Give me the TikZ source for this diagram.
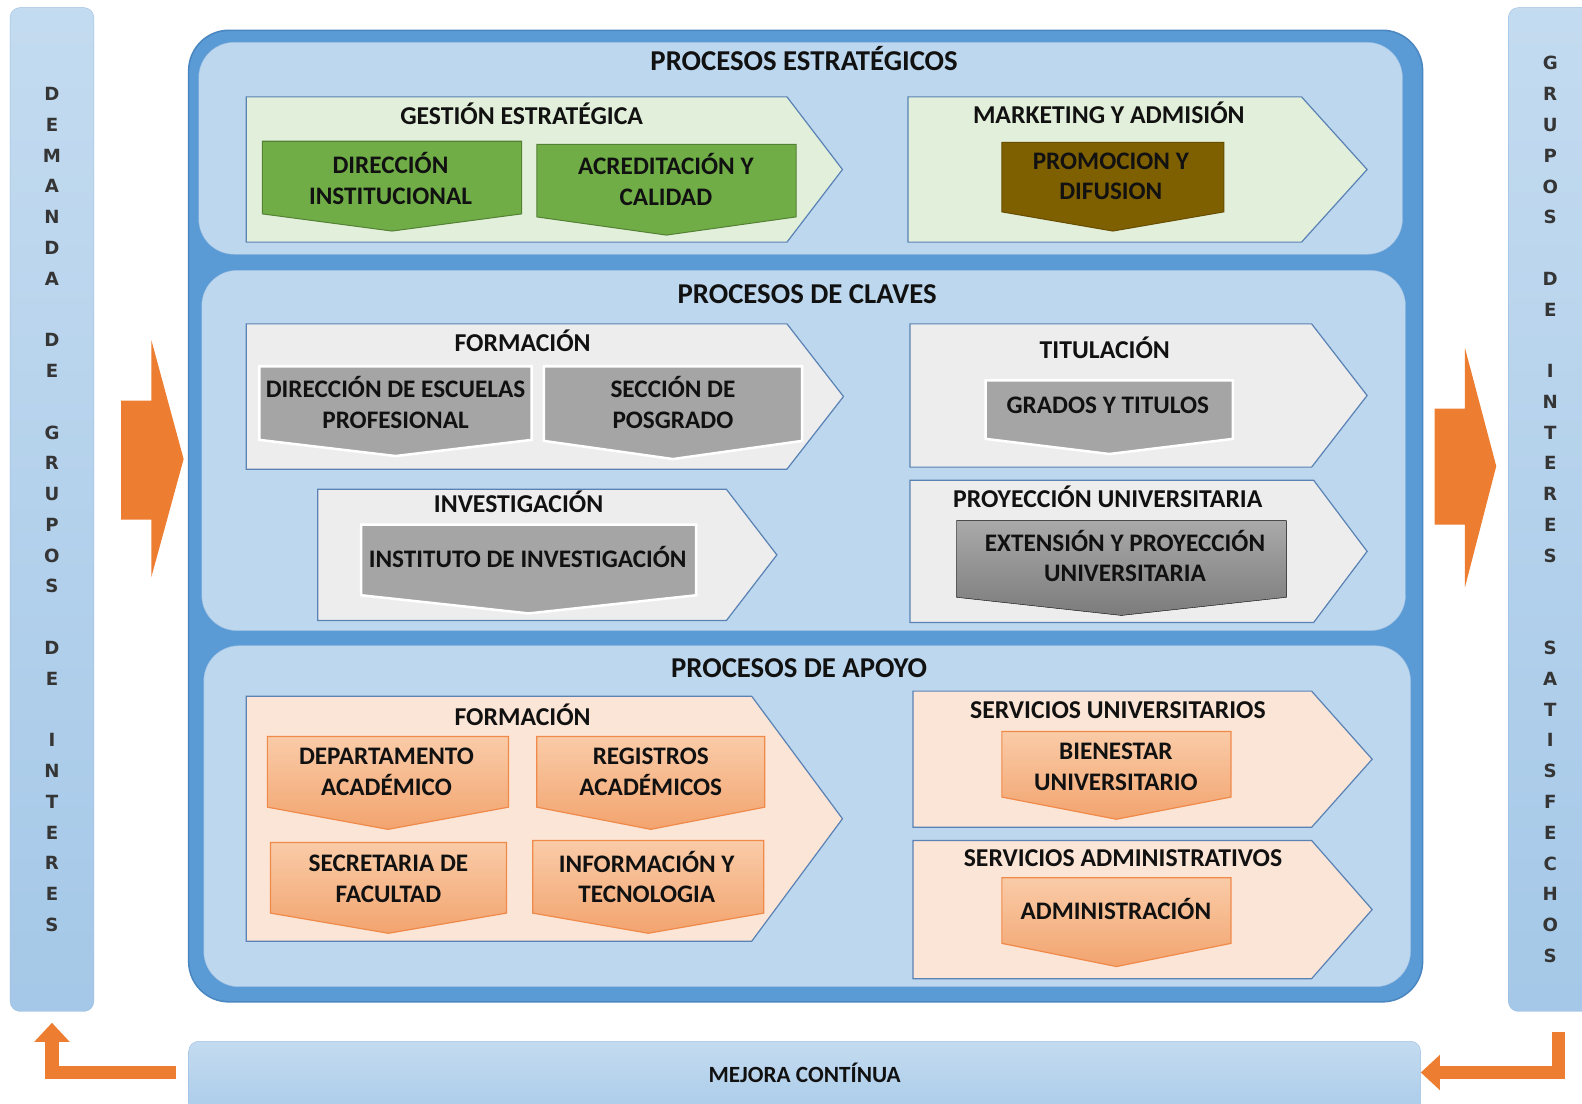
\documentclass[tikz,border=0pt]{standalone}
\usepackage{fontspec}
\setmainfont{Carlito}
\newfontfamily\letras{DejaVu Sans}
\usetikzlibrary{arrows.meta}

% 颜色
\definecolor{marco}{HTML}{5B9BD5}
\definecolor{marcoborde}{HTML}{4A86C0}
\definecolor{panel}{HTML}{BDD7EE}
\definecolor{panelborde}{HTML}{9DBFE3}
\definecolor{linea}{HTML}{5A82B4}
\definecolor{verdeclaro}{HTML}{E2EFDA}
\definecolor{grisclaro}{HTML}{EDEDED}
\definecolor{durazno}{HTML}{FBE5D6}
\definecolor{verde}{HTML}{70AD47}
\definecolor{verdeborde}{HTML}{548235}
\definecolor{cafe}{HTML}{7F6000}
\definecolor{gris}{HTML}{A5A5A5}
\definecolor{naranja}{HTML}{ED7D31}
\definecolor{naranjaborde}{HTML}{F08A4B}
\definecolor{texto}{HTML}{111111}

\tikzset{
  chev/.style={draw=linea, line width=1.2pt},
  cajaverde/.style={fill=verde, draw=verdeborde, line width=1pt},
  cajacafe/.style={fill=cafe, draw=cafe!80!black, line width=1pt},
  cajagris/.style={fill=gris, draw=white, line width=2.5pt},
  cajanaranja/.style={top color=orange!25!naranja!40, bottom color=naranja!70!white, draw=naranjaborde, line width=1.2pt},
  titulo/.style={font=\fontsize{28.5}{32}\selectfont\bfseries, text=texto, inner sep=0pt},
  sub/.style={font=\fontsize{25.5}{30}\selectfont\bfseries, text=texto, inner sep=0pt},
  texto/.style={font=\fontsize{25}{30}\selectfont\bfseries, text=texto, align=center, inner sep=0pt},
  columna/.style={rounded corners=10pt, draw=panelborde, top color=panel!90!white, bottom color=marco!55!white,
    minimum width=83pt, minimum height=995pt, inner sep=0pt, align=center,
    font=\fontsize{18}{30.5}\selectfont\letras\bfseries, text=texto!85!white},
  lflecha/.style={naranja, line width=13pt, line join=miter, -{Triangle[width=34pt,length=19pt]}},
}

% 箭头形状(右端尖)
\newcommand{\chevron}[6]{\draw[#1] (#2,#3) -- (#4,#3) -- (#6,{(#3+#5)/2}) -- (#4,#5) -- (#2,#5) -- cycle;}
% 向下尖的方框
\newcommand{\caja}[6]{\draw[#1] (#2,#3) -- (#4,#3) -- (#4,#5) -- ({(#2+#4)/2},#6) -- (#2,#5) -- cycle;}

\begin{document}
\begin{tikzpicture}[x=1pt,y=-1pt]
    \useasboundingbox (0,0) rectangle (1568,1094);
    \fill[white] (0,0) rectangle (1568,1094);

    % 两侧竖条
    \node[columna] (colI) at (51.5,505) {D\\E\\M\\A\\N\\D\\A\\[30.5pt]D\\E\\[30.5pt]G\\R\\U\\P\\O\\S\\[30.5pt]D\\E\\[30.5pt]I\\N\\T\\E\\R\\E\\S};
    \node[columna] (colD) at (1536.5,505) {G\\R\\U\\P\\O\\S\\[30.5pt]D\\E\\[30.5pt]I\\N\\T\\E\\R\\E\\S\\[61pt]S\\A\\T\\I\\S\\F\\E\\C\\H\\O\\S};

    % 大框与三个面板
    \draw[fill=marco, draw=marcoborde, line width=1.5pt, rounded corners=40pt] (187,30) rectangle (1410,993);
    \draw[fill=panel, draw=panelborde, rounded corners=35pt] (197,42) rectangle (1390,252);
    \draw[fill=panel, draw=panelborde, rounded corners=35pt] (200,268) rectangle (1393,625);
    \draw[fill=panel, draw=panelborde, rounded corners=35pt] (202,640) rectangle (1398,978);

    \node[titulo] (tE) at (797,58) {PROCESOS ESTRATÉGICOS};
    \node[titulo] (tC) at (800,292) {PROCESOS DE CLAVES};
    \node[titulo] (tA) at (792,662) {PROCESOS DE APOYO};

    % 战略过程
    \chevron{chev, fill=verdeclaro}{244}{96}{780}{240}{835}
    \chevron{chev, fill=verdeclaro}{900}{96}{1290}{240}{1355}
    \node[sub] (ge) at (517,113) {GESTIÓN ESTRATÉGICA};
    \node[sub] (ma) at (1099,112) {MARKETING Y ADMISIÓN};
    \caja{cajaverde}{260}{140}{517}{212}{229}
    \caja{cajaverde}{532}{143}{789}{215}{233}
    \caja{cajacafe}{993}{141}{1213}{210}{229}
    \node[texto] (dir) at (387,177) {DIRECCIÓN\\INSTITUCIONAL};
    \node[texto] (acr) at (660,178) {ACREDITACIÓN Y\\CALIDAD};
    \node[texto] (pro) at (1101,175) {PROMOCION Y\\DIFUSION};

    % 关键过程
    \chevron{chev, fill=grisclaro}{244}{321}{780}{465}{836}
    \chevron{chev, fill=grisclaro}{315}{485}{720}{615}{770}
    \chevron{chev, fill=grisclaro}{902}{321}{1300}{463}{1355}
    \chevron{chev, fill=grisclaro}{902}{476}{1302}{617}{1355}
    \node[sub] (fo) at (518,338) {FORMACIÓN};
    \node[sub] (iv) at (514,497) {INVESTIGACIÓN};
    \node[sub] (ti) at (1095,345) {TITULACIÓN};
    \node[sub] (pu) at (1098,492) {PROYECCIÓN UNIVERSITARIA};
    \caja{cajagris}{257}{363}{527}{436}{452}
    \caja{cajagris}{539}{363}{795}{437}{455}
    \caja{cajagris}{358}{520}{690}{590}{608}
    \caja{cajagris}{977}{377}{1222}{435}{450}
    \caja{top color=gris!95!white, bottom color=gris!75!black}{948}{516}{1275}{592}{610}
    \node[texto] (des) at (392,399) {DIRECCIÓN DE ESCUELAS\\PROFESIONAL};
    \node[texto] (pos) at (667,399) {SECCIÓN DE\\POSGRADO};
    \node[texto] (ins) at (523,552) {INSTITUTO DE INVESTIGACIÓN};
    \node[texto] (gra) at (1098,402) {GRADOS Y TITULOS};
    \node[texto] (ext) at (1115,551) {EXTENSIÓN Y PROYECCIÓN\\UNIVERSITARIA};

    % 支持过程
    \chevron{chev, fill=durazno}{244}{690}{745}{933}{835}
    \chevron{chev, fill=durazno}{905}{685}{1300}{820}{1360}
    \chevron{chev, fill=durazno}{905}{833}{1300}{970}{1360}
    \node[sub] (fa) at (518,708) {FORMACIÓN};
    \node[sub] (su) at (1108,704) {SERVICIOS UNIVERSITARIOS};
    \node[sub] (sa) at (1113,851) {SERVICIOS ADMINISTRATIVOS};
    \caja{cajanaranja}{265}{730}{504}{800}{822}
    \caja{cajanaranja}{532}{730}{758}{800}{822}
    \caja{cajanaranja}{268}{835}{502}{905}{925}
    \caja{cajanaranja}{528}{833}{757}{905}{925}
    \caja{cajanaranja}{993}{725}{1220}{790}{812}
    \caja{cajanaranja}{993}{870}{1220}{935}{958}
    \node[texto] (dep) at (383,765) {DEPARTAMENTO\\ACADÉMICO};
    \node[texto] (reg) at (645,765) {REGISTROS\\ACADÉMICOS};
    \node[texto] (sec) at (385,871) {SECRETARIA DE\\FACULTAD};
    \node[texto] (inf) at (641,869) {INFORMACIÓN Y\\TECNOLOGIA};
    \node[texto] (bie) at (1106,760) {BIENESTAR\\UNIVERSITARIO};
    \node[texto] (adm) at (1106,901) {ADMINISTRACIÓN};

    % 橙色大箭头
    \fill[naranja] (120,397) -- (150,397) -- (150,337) -- (182,455) -- (150,572) -- (150,515) -- (120,515) -- cycle;
    \fill[naranja] (1422,405) -- (1452,405) -- (1452,345) -- (1483,462) -- (1452,582) -- (1452,520) -- (1422,520) -- cycle;

    % 底部:持续改进
    \draw[draw=panelborde, top color=panel!90!white, bottom color=marco!55!white, rounded corners=10pt]
        (187,1120) |- (1408,1032) -- (1408,1120) -- cycle;
    \node[minimum width=1221pt, minimum height=62pt, inner sep=0pt,
        font=\fontsize{23}{27}\selectfont\bfseries, text=texto] (mej) at (797.5,1063) {MEJORA CONTÍNUA};
    \draw[lflecha, shorten <=12pt, shorten >=11pt] (mej.west) -| (colI.south);
    \draw[lflecha, shorten <=20pt] ([xshift=8pt]colD.south) |- (mej.east);
\end{tikzpicture}
\end{document}
